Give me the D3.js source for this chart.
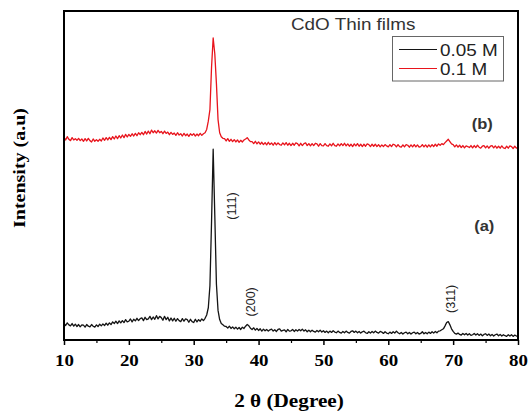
<!DOCTYPE html>
<html>
<head>
<meta charset="utf-8">
<script src="https://cdn.jsdelivr.net/npm/d3@7"></script>
<style>
  body { margin: 0; background: #fff; }
</style>
</head>
<body>
<div id="chart"></div>
<script>
// 2 theta sampling (degrees)
const twoTheta = [
  10,10.25,10.5,10.75, 11,11.25,11.5,11.75, 12,12.25,12.5,12.75, 13,13.25,13.5,13.75,
  14,14.25,14.5,14.75, 15,15.25,15.5,15.75, 16,16.25,16.5,16.75, 17,17.25,17.5,17.75,
  18,18.25,18.5,18.75, 19,19.25,19.5,19.75, 20,20.25,20.5,20.75, 21,21.25,21.5,21.75,
  22,22.25,22.5,22.75, 23,23.25,23.5,23.75, 24,24.25,24.5,24.75, 25,25.25,25.5,25.75,
  26,26.25,26.5,26.75, 27,27.25,27.5,27.75, 28,28.25,28.5,28.75, 29,29.25,29.5,29.75,
  30,30.25,30.5,30.75, 31,31.25,31.5,31.75, 32,32.25,32.5,32.75, 33,33.25,33.5,33.75,
  34,34.25,34.5,34.75, 35,35.25,35.5,35.75, 36,36.25,36.5,36.75, 37,37.25,37.5,37.75,
  38,38.25,38.5,38.75, 39,39.25,39.5,39.75, 40,40.25,40.5,40.75, 41,41.25,41.5,41.75,
  42,42.25,42.5,42.75, 43,43.25,43.5,43.75, 44,44.25,44.5,44.75, 45,45.25,45.5,45.75,
  46,46.25,46.5,46.75, 47,47.25,47.5,47.75, 48,48.25,48.5,48.75, 49,49.25,49.5,49.75,
  50,50.25,50.5,50.75, 51,51.25,51.5,51.75, 52,52.25,52.5,52.75, 53,53.25,53.5,53.75,
  54,54.25,54.5,54.75, 55,55.25,55.5,55.75, 56,56.25,56.5,56.75, 57,57.25,57.5,57.75,
  58,58.25,58.5,58.75, 59,59.25,59.5,59.75, 60,60.25,60.5,60.75, 61,61.25,61.5,61.75,
  62,62.25,62.5,62.75, 63,63.25,63.5,63.75, 64,64.25,64.5,64.75, 65,65.25,65.5,65.75,
  66,66.25,66.5,66.75, 67,67.25,67.5,67.75, 68,68.25,68.5,68.75, 69,69.25,69.5,69.75,
  70,70.25,70.5,70.75, 71,71.25,71.5,71.75, 72,72.25,72.5,72.75, 73,73.25,73.5,73.75,
  74,74.25,74.5,74.75, 75,75.25,75.5,75.75, 76,76.25,76.5,76.75, 77,77.25,77.5,77.75,
  78,78.25,78.5,78.75, 79,79.25,79.5,79.75, 80
];

// curve (a), 0.05 M  (a.u., offset already included)
const intensityA = [
  5.1,4.4,5.2,4.6, 4.3,5.0,4.2,4.8, 4.1,4.7,4.0,4.6, 4.5,3.9,4.7,4.2,
  4.0,4.7,4.2,3.9, 4.6,4.1,4.8,4.3, 4.9,4.4,5.1,4.5, 5.2,4.7,5.5,5.0,
  5.7,5.0,5.8,5.2, 5.9,5.3,6.2,5.5, 5.7,6.4,5.5,6.3, 5.8,6.6,5.9,6.5,
  6.7,5.9,6.9,6.2, 6.4,7.2,6.2,7.0, 6.3,7.4,6.4,7.2, 6.8,6.0,7.2,6.2,
  6.9,5.8,6.7,5.8, 6.6,5.7,6.5,5.9, 5.6,6.5,5.7,6.4, 6.2,5.4,6.3,5.6,
  5.3,6.3,5.5,6.2, 5.7,6.4,5.9,6.6, 7.6,9.8,16.5,36.0, 58.0,38.0,17.0,9.0,
  6.2,5.0,4.6,4.2, 4.1,3.6,4.2,3.5, 4.0,3.4,3.9,3.3, 3.8,3.2,3.9,3.5,
  4.2,4.7,4.3,3.6, 3.2,3.7,3.0,3.5, 2.9,3.4,2.7,3.3, 2.8,3.2,2.7,3.1,
  3.3,2.7,3.1,2.6, 3.2,3.4,2.7,2.9, 3.1,2.5,3.2,2.7, 2.8,3.2,2.6,3.1,
  2.7,3.2,2.8,3.3, 2.7,3.1,2.5,3.0, 2.5,3.0,2.6,2.4, 2.9,2.5,3.0,2.4,
  2.8,2.3,2.7,2.2, 2.7,2.3,2.8,2.4, 2.2,2.7,2.3,2.1, 2.6,2.2,2.7,2.3,
  2.1,2.6,2.8,2.3, 2.7,2.2,2.6,2.1, 2.5,2.7,2.2,2.0, 2.5,2.1,2.6,2.2,
  2.7,2.3,2.1,2.6, 2.4,2.0,2.5,2.1, 1.9,2.4,2.0,2.5, 2.1,2.7,2.2,1.9,
  2.3,1.8,2.2,2.4, 1.9,2.3,1.8,2.2, 2.4,1.9,2.3,1.8, 2.0,2.5,1.9,2.3,
  1.9,2.4,2.0,2.5, 2.1,2.6,2.2,2.7, 2.8,3.1,3.4,4.3, 5.3,5.6,4.6,3.4,
  2.6,2.0,1.8,2.1, 1.7,1.5,2.0,1.6, 2.0,1.5,1.9,1.4, 1.6,2.0,1.5,1.9,
  1.4,1.8,1.3,1.7, 1.9,1.4,1.8,1.3, 1.7,1.2,1.6,1.8, 1.3,1.7,1.2,1.6,
  1.3,1.1,1.6,1.2, 1.6,1.1,1.5,1.2, 1.2
];

// curve (b), 0.1 M  (a.u., offset already included)
const intensityB = [
  61.7,60.8,61.8,61.0, 60.6,61.5,60.8,61.2, 60.7,61.3,60.6,61.1, 60.4,61.2,60.5,61.3,
  60.6,60.2,61.1,60.4, 60.9,60.4,61.0,60.5, 61.4,60.7,61.5,60.8, 61.6,60.9,61.8,61.1,
  62.0,61.2,62.1,61.4, 62.3,61.5,62.5,61.7, 62.5,61.9,62.7,62.0, 62.8,62.1,63.0,62.4,
  63.1,62.4,63.4,62.6, 63.5,62.7,63.8,63.0, 63.6,62.9,63.7,63.0, 63.4,62.7,63.5,62.8,
  63.2,62.4,63.1,62.5, 62.9,62.2,63.0,62.3, 62.7,62.0,62.8,62.1, 62.6,61.9,62.7,62.2,
  62.7,62.0,62.6,62.1, 62.8,62.2,62.7,63.0, 64.0,66.5,70.0,83.0, 91.8,87.0,78.0,67.0,
  63.0,61.8,61.3,61.2, 60.5,61.2,60.4,61.0, 60.3,60.9,60.2,60.8, 60.1,60.7,60.2,60.8,
  61.1,61.5,60.8,60.3, 60.3,59.7,60.4,59.6, 60.2,59.5,60.1,59.4, 60.0,59.3,60.1,59.4,
  59.9,59.2,60.0,59.3, 59.9,59.4,59.2,59.9, 59.3,60.0,59.2,59.8, 59.1,59.8,59.2,59.9,
  59.7,59.0,59.8,59.1, 59.7,59.9,59.1,59.7, 59.0,59.7,59.1,59.8, 59.6,58.9,59.7,59.1,
  59.0,59.7,59.1,58.9, 59.6,59.0,59.8,59.1, 58.9,59.6,59.0,59.7, 59.1,59.8,59.0,59.6,
  58.9,59.5,58.8,59.6, 59.0,59.7,58.9,59.5, 58.8,59.5,58.9,59.6, 59.4,58.8,59.5,58.9,
  59.5,58.8,59.4,58.7, 59.3,58.8,59.4,59.0, 58.7,59.4,58.8,59.5, 59.3,58.7,59.4,58.8,
  58.6,59.3,58.7,59.4, 59.2,58.6,59.3,58.7, 59.4,58.7,59.3,58.6, 58.8,59.4,58.7,59.3,
  58.6,59.3,58.7,59.4, 58.8,59.5,58.9,59.6, 59.2,59.7,59.4,60.0, 60.5,61.0,60.3,59.6,
  59.4,58.7,59.3,58.6, 59.2,58.5,59.1,58.4, 59.0,58.8,58.5,59.1, 58.4,59.1,58.5,59.2,
  58.6,58.3,58.9,59.1, 58.4,59.0,58.3,58.9, 59.1,58.4,59.0,58.3, 58.9,58.3,59.0,58.4,
  58.2,58.9,58.3,59.0, 58.8,58.2,58.9,58.3, 58.6
];

const majorTicks = [10, 20, 30, 40, 50, 60, 70, 80];
const minorTicks = [15, 25, 35, 45, 55, 65, 75];
const seriesNames = ["0.05 M", "0.1 M"];
const seriesColors = ["#141414", "#e8141c"];

// reflection labels (2theta, a.u.)
const peakLabels = ["(111)", "(200)", "(311)"];
const peakLabelX = [35.9, 38.7, 69.6];
const peakLabelY = [40.7, 11.6, 12.5];
// curve tags
const curveTags = ["(a)", "(b)"];
const curveTagX = [74.8, 74.5];
const curveTagY = [34.6, 65.5];

const width = 529, height = 412;
const margin = {top: 11, right: 11, bottom: 72, left: 64};
const stretch = 1.18;

const svg = d3.select("#chart").append("svg")
  .attr("width", width)
  .attr("height", height);

const x = d3.scaleLinear().domain([10, 80]).range([margin.left, width - margin.right]);
const y = d3.scaleLinear().domain([0, 100]).range([height - margin.bottom, margin.top]);

const line = d3.line()
  .x(d => x(d[0]))
  .y(d => y(d[1]));

// curves
[intensityA, intensityB].forEach(function (vals, i) {
  svg.append("path")
    .datum(d3.zip(twoTheta, vals))
    .attr("d", line)
    .attr("fill", "none")
    .attr("stroke", seriesColors[i])
    .attr("stroke-width", 1.3)
    .attr("stroke-linejoin", "round");
});

// frame
svg.append("rect")
  .attr("x", x(10))
  .attr("y", y(100))
  .attr("width", x(80) - x(10))
  .attr("height", y(0) - y(100))
  .attr("fill", "none")
  .attr("stroke", "#000")
  .attr("stroke-width", 2);

// x axis, major + minor ticks
const gx = svg.append("g")
  .attr("transform", "translate(0," + y(0) + ")")
  .call(d3.axisBottom(x).tickValues(majorTicks).tickSize(5).tickSizeOuter(0).tickPadding(10));
gx.select(".domain").remove();
gx.selectAll(".tick line").attr("stroke", "#000").attr("stroke-width", 1.5);
gx.selectAll(".tick text")
  .attr("fill", "#000")
  .style("font-family", "'Liberation Serif', 'Times New Roman', serif")
  .style("font-weight", "bold")
  .style("font-size", "16px")
  .attr("transform", "scale(" + stretch + ",1)");

const gm = svg.append("g")
  .attr("transform", "translate(0," + y(0) + ")")
  .call(d3.axisBottom(x).tickValues(minorTicks).tickSize(3).tickSizeOuter(0).tickFormat(""));
gm.select(".domain").remove();
gm.selectAll(".tick line").attr("stroke", "#000").attr("stroke-width", 1.2);

// axis titles
svg.append("text")
  .attr("transform", "translate(289,407) scale(" + stretch + ",1)")
  .attr("text-anchor", "middle")
  .style("font-family", "'Liberation Serif', 'Times New Roman', serif")
  .style("font-weight", "bold")
  .style("font-size", "18px")
  .text("2 θ (Degree)");

svg.append("text")
  .attr("transform", "translate(24.5,168) rotate(-90)")
  .attr("text-anchor", "middle")
  .attr("textLength", 120)
  .attr("lengthAdjust", "spacingAndGlyphs")
  .style("font-family", "'Liberation Serif', 'Times New Roman', serif")
  .style("font-weight", "bold")
  .style("font-size", "17px")
  .text("Intensity (a.u)");

// title inside plot
svg.append("text")
  .attr("transform", "translate(291,30) scale(" + stretch + ",1)")
  .attr("fill", "#333")
  .style("font-family", "'Liberation Sans', Arial, sans-serif")
  .style("font-size", "16px")
  .text("CdO Thin films");

// legend
const legend = svg.append("g");
legend.append("rect")
  .attr("x", 392.5).attr("y", 36.5)
  .attr("width", 111).attr("height", 44.5)
  .attr("fill", "#fff")
  .attr("stroke", "#666")
  .attr("stroke-width", 1);
seriesNames.forEach(function (name, i) {
  const ly = 49.5 + i * 19;
  legend.append("line")
    .attr("x1", 399).attr("x2", 437)
    .attr("y1", ly).attr("y2", ly)
    .attr("stroke", seriesColors[i])
    .attr("stroke-width", 1.2);
  legend.append("text")
    .attr("transform", "translate(440," + (ly + 6.5) + ") scale(" + stretch + ",1)")
    .attr("fill", "#222")
    .style("font-family", "'Liberation Sans', Arial, sans-serif")
    .style("font-size", "16px")
    .text(name);
});

// reflection labels
peakLabels.forEach(function (lab, i) {
  svg.append("text")
    .attr("transform", "translate(" + x(peakLabelX[i]) + "," + y(peakLabelY[i]) + ") rotate(-90)")
    .attr("text-anchor", "middle")
    .attr("dy", "0.35em")
    .attr("fill", "#222")
    .style("font-family", "'Liberation Sans', Arial, sans-serif")
    .style("font-size", "12.5px")
    .text(lab);
});

// curve tags
curveTags.forEach(function (tag, i) {
  svg.append("text")
    .attr("transform", "translate(" + x(curveTagX[i]) + "," + y(curveTagY[i]) + ") scale(" + stretch + ",1)")
    .attr("text-anchor", "middle")
    .attr("dy", "0.35em")
    .attr("fill", "#333")
    .style("font-family", "'Liberation Sans', Arial, sans-serif")
    .style("font-weight", "bold")
    .style("font-size", "14px")
    .text(tag);
});
</script>
</body>
</html>
